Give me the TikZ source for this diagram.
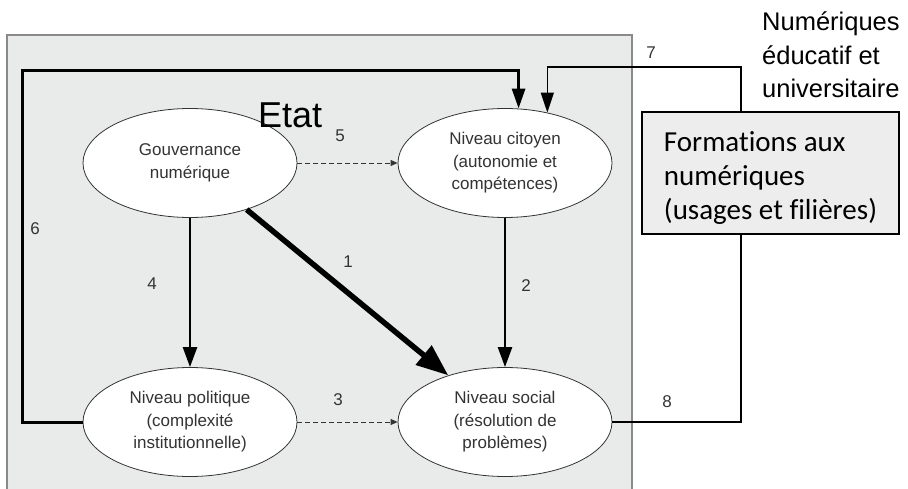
\documentclass[tikz,border=0pt]{standalone}
\usepackage{fontspec}
\setmainfont{Liberation Sans}
\newfontfamily\calfont[Ligatures={NoCommon}]{Carlito}
\usetikzlibrary{shapes.geometric,arrows.meta}
\definecolor{etatgray}{HTML}{E9EAEA}
\definecolor{boxgray}{HTML}{EDEDED}
\definecolor{inkgray}{HTML}{333333}
\definecolor{rimgray}{HTML}{8A8A8A}

\begin{document}
\begin{tikzpicture}[x=1pt,y=-1pt,
	niveau/.style={ellipse,draw=inkgray,line width=0.8pt,fill=white,minimum width=214pt,minimum height=109pt,inner sep=0pt,align=center,text=inkgray,font=\fontsize{17}{22.5}\selectfont},
	num/.style={text=inkgray,font=\fontsize{17}{20}\selectfont,inner sep=0pt},
	fort/.style={line width=2.5pt,-{Triangle[length=20pt,width=14pt]}},
	tirets/.style={line width=0.9pt,draw=inkgray,dash pattern=on 5pt off 3pt,-{Triangle[length=7pt,width=6pt]}},
	fin/.style={line width=1.5pt}]
		\useasboundingbox (0,0) rectangle (908,489);
		\draw[rimgray,line width=1.2pt,fill=etatgray] (7,35) rectangle (632,495);
		
		\node[niveau] (gouv) at (190,163) {Gouvernance\\numérique};
		\node[niveau] (citoyen) at (505,163) {Niveau citoyen\\(autonomie et\\compétences)};
		\node[niveau] (politique) at (190,422) {Niveau politique\\(complexité\\institutionnelle)};
		\node[niveau] (social) at (505,422) {Niveau social\\(résolution de\\problèmes)};
		
		\node[draw,line width=1.5pt,fill=boxgray,minimum width=257pt,minimum height=122pt,inner sep=0pt,align=left,font=\calfont\fontsize{29}{34}\selectfont] (form) at (770.5,173) {\rule{0pt}{30pt}Formations aux\\numériques\\(usages et filières)};
		
		\coordinate (k6) at (22,71);
		\coordinate (k7) at (741,67);
		
		\draw[fort] (gouv) -- (politique);
		\draw[fort] (citoyen) -- (social);
		\draw[line width=5.5pt,-{Triangle[length=32pt,width=24pt]}] (gouv) -- (social);
		\draw[tirets] (gouv) -- (citoyen);
		\draw[tirets] (politique) -- (social);
		\draw[line width=3pt,-{Triangle[length=20pt,width=13pt]}] (politique.west) -| (k6) -| (citoyen.76.5);
		\draw[fin,-{Triangle[length=20pt,width=13pt]}] (k7 |- form.north) -- (k7) -| (citoyen.50);
		\draw[fin] (social.east) -| (k7 |- form.south);
		
		\node[num] (n1) at (348,262) {1};
		\node[num] (n2) at (526,286) {2};
		\node[num] (n3) at (338,400) {3};
		\node[num] (n4) at (152,284) {4};
		\node[num] (n5) at (340,136) {5};
		\node[num] (n6) at (35,229) {6};
		\node[num] (n7) at (651,53) {7};
		\node[num] (n8) at (667,402) {8};
		
		\node[font=\fontsize{36}{40}\selectfont,anchor=base west,inner sep=0pt] (etat) at (258,128) {Etat};
		\node[font=\fontsize{25.5}{33.5}\selectfont,anchor=base west,inner sep=0pt,align=left] (edu) at (762,98) {Numériques\\éducatif et\\universitaire};
\end{tikzpicture}
\end{document}
